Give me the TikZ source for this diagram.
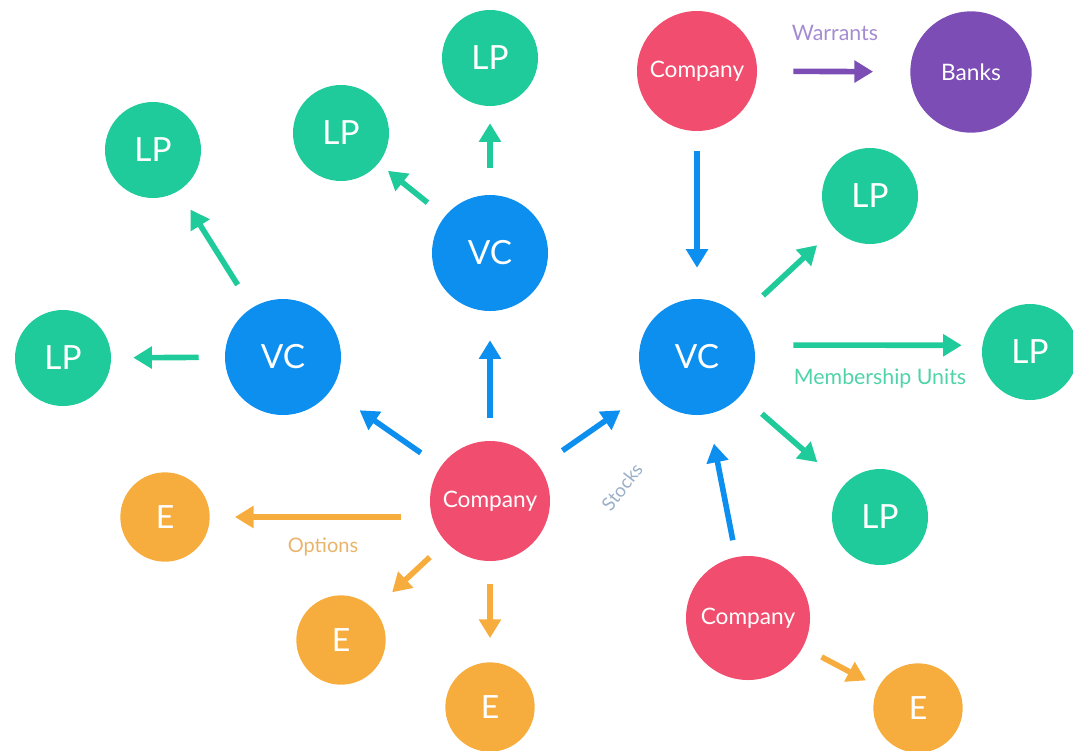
\documentclass[tikz,border=0pt]{standalone}
\usepackage{fontspec}
\setmainfont{Lato}
\usetikzlibrary{arrows.meta}
\definecolor{cgreen}{HTML}{1FCB9A}
\definecolor{cblue}{HTML}{0C8FEF}
\definecolor{cpink}{HTML}{F14D6E}
\definecolor{corange}{HTML}{F6AD3E}
\definecolor{cpurple}{HTML}{7B4DB5}
\definecolor{tpurple}{HTML}{A58CD0}
\definecolor{torange}{HTML}{E9B46A}
\definecolor{tgreen}{HTML}{4FD3A8}
\definecolor{tgrey}{HTML}{9AAFC8}
\tikzset{
  disc/.style={circle, inner sep=0pt, text=white},
  lpnode/.style={disc, fill=cgreen, minimum size=72pt, font=\fontsize{25}{25}\selectfont},
  vcnode/.style={disc, fill=cblue, minimum size=87pt, font=\fontsize{25}{25}\selectfont},
  conode/.style={disc, fill=cpink, minimum size=90pt, font=\fontsize{17}{17}\selectfont},
  enode/.style={disc, fill=corange, minimum size=67pt, font=\fontsize{24}{24}\selectfont},
  banknode/.style={disc, fill=cpurple, minimum size=91pt, font=\fontsize{17}{17}\selectfont},
  ar/.style={line width=4.2pt, -{Triangle[length=14pt,width=16pt]}},
  g/.style 2 args={shorten <={#1*0.75pt}, shorten >={#2*0.75pt}},
  lbl/.style={font=\fontsize{16}{16}\selectfont}
}
\begin{document}
\begin{tikzpicture}[x=0.75pt,y=-0.75pt]
\useasboundingbox (0,0) rectangle (1073,750);
% nodes
\node[lpnode] (lpt) at (490,58) {LP};
\node[conode] (ct) at (697,71) {Company};
\node[banknode] (banks) at (971,72) {Banks};
\node[lpnode] (lp2) at (341,133) {LP};
\node[lpnode] (lp1) at (153,150) {LP};
\node[vcnode] (vct) at (490,253) {VC};
\node[lpnode] (lp3) at (870,196) {LP};
\node[lpnode] (lpl) at (63,358) {LP};
\node[vcnode] (vcl) at (283,357) {VC};
\node[vcnode] (vcr) at (697,357) {VC};
\node[lpnode] (lpr) at (1030,352) {LP};
\node[conode] (cc) at (490,501) {Company};
\node[enode] (el) at (165,517) {E};
\node[lpnode] (lp4) at (880,517) {LP};
\node[enode] (e2) at (341,640) {E};
\node[enode] (eb) at (490,707) {E};
\node[conode, minimum size=93pt] (cbr) at (748,618) {Company};
\node[enode] (ebr) at (918,708) {E};
% connectors
\draw[ar, cblue, g={20}{31}] (ct) -- (vcr);
\draw[ar, cpurple, g={36}{37}] (ct) -- (banks);
\draw[ar, cgreen, g={27}{17}] (vct) -- (lpt);
\draw[ar, cgreen, g={22}{12}] (vct) -- (lp2);
\draw[ar, cgreen, g={27}{22}] (vcl) -- (lp1);
\draw[ar, cgreen, g={26}{22}] (vcl) -- (lpl);
\draw[ar, cblue, g={24}{35}] (cc) -- (vcl);
\draw[ar, cblue, g={23}{29}] (cc) -- (vct);
\draw[ar, cblue, g={28}{35}] (cc) -- (vcr);
\draw[ar, corange, g={29}{25}] ([yshift=-12pt]cc.west) -- (el.east);
\draw[ar, corange, g={22}{25}] (cc) -- (e2);
\draw[ar, corange, g={23}{24}] (cc) -- (eb);
\draw[ar, cgreen, g={32}{24}] (vcr) -- (lp3);
\draw[ar, cgreen, g={38}{20}] ([yshift=9pt]vcr.east) -- ([yshift=5pt]lpr.west);
\draw[ar, cgreen, g={28}{35}] (vcr) -- (lp4);
\draw[ar, cblue, g={17}{30}] (cbr) -- (vcr);
\draw[ar, corange, g={21}{14}] (cbr) -- (ebr);
% labels
\node[lbl, text=tpurple] (lw) at (835,33) {Warrants};
\node[lbl, text=tgreen] (lm) at (880,378) {Membership Units};
\node[lbl, text=torange, font=\fontsize{15}{15}\selectfont] (lo) at (323,547) {Options};
\node[lbl, text=tgrey, rotate=52, font=\fontsize{14}{14}\selectfont] (ls) at (622,487) {Stocks};
\end{tikzpicture}
\end{document}
